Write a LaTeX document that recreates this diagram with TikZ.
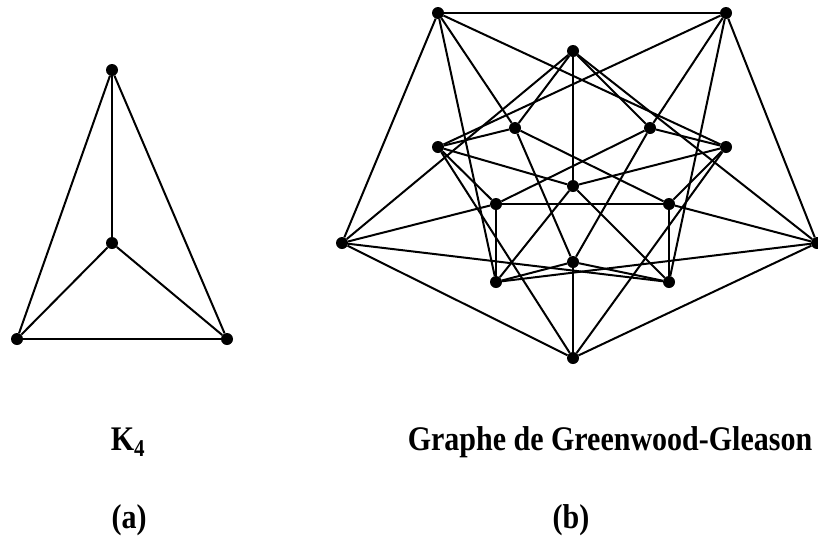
\documentclass[tikz,border=0pt]{standalone}
\usepackage{fontspec}
\setmainfont{Liberation Serif}
\usetikzlibrary{positioning}

\begin{document}
\begin{tikzpicture}[x=1pt, y=-1pt]
            \tikzstyle{vtx} = [circle, fill=black, inner sep=0pt, minimum size=12pt]
            \tikzstyle{edge} = [line width=2pt]
            \tikzstyle{lbl} = [font=\fontsize{30}{34}\selectfont\bfseries, inner sep=0pt,
                               anchor=base, yscale=1.15, transform shape]

            \useasboundingbox (0,0) rectangle (818,550);

            % K4
            \node (k1) [vtx] at (112,70)  {};
            \node (k2) [vtx] at (112,243) {};
            \node (k3) [vtx] at (17,339)  {};
            \node (k4) [vtx] at (227,339) {};

            \draw [edge] (k1) -- (k2);
            \draw [edge] (k1) -- (k3);
            \draw [edge] (k1) -- (k4);
            \draw [edge] (k2) -- (k3);
            \draw [edge] (k2) -- (k4);
            \draw [edge] (k3) -- (k4);

            % Greenwood-Gleason
            \node (ga) [vtx] at (438,13)  {};
            \node (gb) [vtx] at (726,13)  {};
            \node (gc) [vtx] at (573,51)  {};
            \node (gd) [vtx] at (515,128) {};
            \node (ge) [vtx] at (650,128) {};
            \node (gf) [vtx] at (438,147) {};
            \node (gg) [vtx] at (726,147) {};
            \node (gh) [vtx] at (573,186) {};
            \node (gi) [vtx] at (496,204) {};
            \node (gj) [vtx] at (669,204) {};
            \node (gk) [vtx] at (342,243) {};
            \node (gl) [vtx] at (817,243) {};
            \node (gm) [vtx] at (573,262) {};
            \node (gn) [vtx] at (496,282) {};
            \node (go) [vtx] at (669,282) {};
            \node (gp) [vtx] at (573,358) {};

            \draw [edge] (gh) -- (gc);  \draw [edge] (gh) -- (gf);  \draw [edge] (gh) -- (gg);
            \draw [edge] (gh) -- (gn);  \draw [edge] (gh) -- (go);
            \draw [edge] (gc) -- (gd);  \draw [edge] (gc) -- (ge);  \draw [edge] (gc) -- (gk);
            \draw [edge] (gc) -- (gl);
            \draw [edge] (gf) -- (gb);  \draw [edge] (gf) -- (gi);  \draw [edge] (gf) -- (gp);
            \draw [edge] (gf) -- (gd);
            \draw [edge] (gg) -- (ga);  \draw [edge] (gg) -- (gj);  \draw [edge] (gg) -- (gp);
            \draw [edge] (gg) -- (ge);
            \draw [edge] (gn) -- (ga);  \draw [edge] (gn) -- (gl);  \draw [edge] (gn) -- (gi);
            \draw [edge] (gn) -- (gm);
            \draw [edge] (go) -- (gb);  \draw [edge] (go) -- (gk);  \draw [edge] (go) -- (gj);
            \draw [edge] (go) -- (gm);
            \draw [edge] (ga) -- (gb);  \draw [edge] (ga) -- (gd);  \draw [edge] (ga) -- (gk);
            \draw [edge] (gb) -- (ge);  \draw [edge] (gb) -- (gl);
            \draw [edge] (gk) -- (gp);  \draw [edge] (gk) -- (gi);
            \draw [edge] (gl) -- (gp);  \draw [edge] (gl) -- (gj);
            \draw [edge] (gi) -- (ge);  \draw [edge] (gi) -- (gj);
            \draw [edge] (gj) -- (gd);
            \draw [edge] (gm) -- (gp);  \draw [edge] (gm) -- (gd);  \draw [edge] (gm) -- (ge);

            % captions
            \node (capk)  [lbl] at (128,450) {K\textsubscript{4}};
            \node (capg)  [lbl] at (610,450) {Graphe de Greenwood-Gleason};
            \node (capa)  [lbl] at (129,528) {(a)};
            \node (capb)  [lbl] at (571,528) {(b)};
        \end{tikzpicture}
\end{document}
